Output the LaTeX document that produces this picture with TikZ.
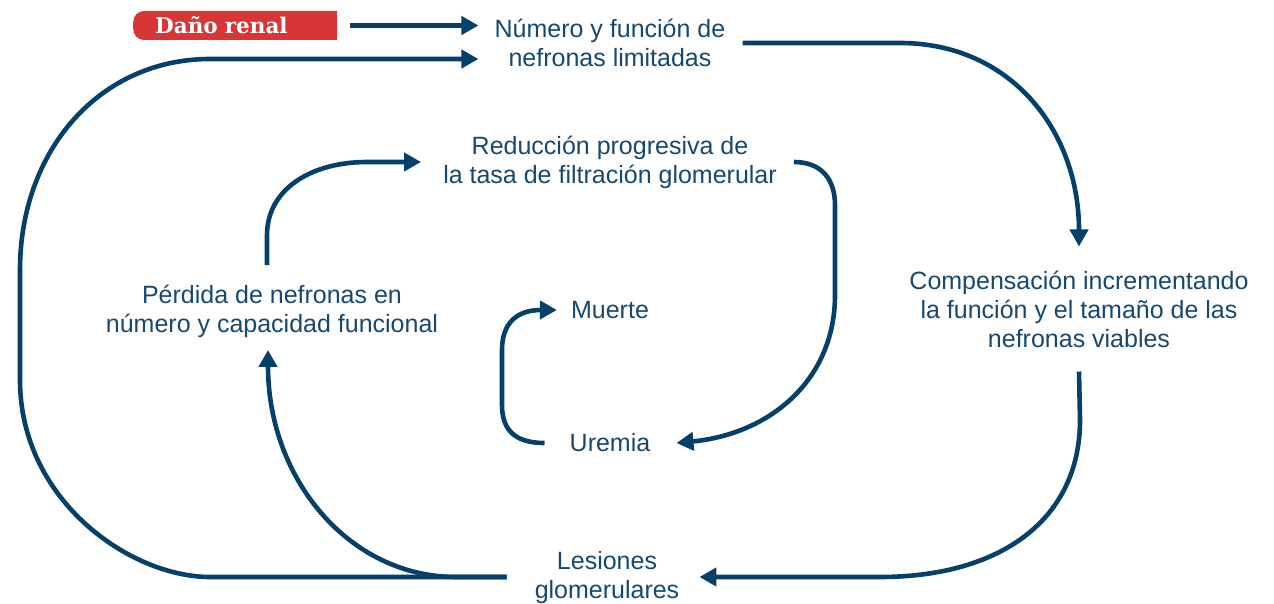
\documentclass[tikz,border=0pt]{standalone}
\usepackage{fontspec}
\setmainfont{Liberation Sans}
\newfontfamily\slabfont{DejaVu Serif}
\usetikzlibrary{arrows.meta}
\definecolor{navy}{RGB}{4,64,105}
\definecolor{txtblue}{RGB}{22,72,112}
\definecolor{dred}{RGB}{216,54,54}
\begin{document}
\begin{tikzpicture}[x=1pt,y=-1pt,
  lbl/.style={font=\fontsize{25}{29}\selectfont, text=txtblue, align=center, inner sep=0pt},
  conn/.style={draw=navy, line width=4.6pt},
  arr/.style={conn, -{Triangle[length=17pt,width=18pt]}},
  redbox/.style={anchor=west, minimum height=29pt, text width=160pt, inner xsep=22pt, inner ysep=0pt,
     align=left, text=white, font=\slabfont\bfseries\fontsize{21.5}{24}\selectfont,
     path picture={\fill[dred, rounded corners=11pt] (path picture bounding box.south west) rectangle ([xshift=20pt]path picture bounding box.north east);}},
]
\useasboundingbox (0,0) rectangle (1274,604);
% nodes
\node[redbox] (dano) at (133,25.5) {Daño renal};
\node[lbl] (num) at (610,43) {Número y función de\\nefronas limitadas};
\node[lbl] (red) at (610,162) {Reducción progresiva de\\la tasa de filtración glomerular};
\node[lbl] (perd) at (272,311) {Pérdida de nefronas en\\número y capacidad funcional};
\node[lbl] (muerte) at (610,310) {Muerte};
\node[lbl] (uremia) at (610,443) {Uremia};
\node[lbl] (comp) at (1079,309) {Compensación incrementando\\la función y el tamaño de las\\nefronas viables};
\node[lbl] (les) at (607,578) {Lesiones\\glomerulares};
% connectors
\draw[arr, shorten <=13pt] (dano.east) -- ([xshift=-16pt]dano.east -| num.west);
\draw[arr] ([xshift=-28pt,yshift=1pt]les.west) -- (210,577) .. controls (130,577) and (20,500) .. (20,380)
   -- (20,270) .. controls (20,150) and (100,59) .. (210,59) -- ([xshift=-16pt,yshift=-16pt]num.west);
\draw[arr] ([xshift=-28pt,yshift=1pt]les.west) -- (456,577) .. controls (350,577) and (268,480) .. ([xshift=-4pt,yshift=-12.5pt]perd.south);
\draw[arr] ([xshift=-5pt,yshift=19.5pt]perd.north) -- (267,235) .. controls (267,190) and (310,162) .. (367,162) -- ([xshift=-22pt]red.west);
\draw[arr] ([xshift=17pt]red.east) .. controls (822,162) and (835,180) .. (835,205) -- (835,295)
   .. controls (835,380) and (770,434) .. ([xshift=26pt]uremia.east);
\draw[arr] ([xshift=-25pt]uremia.west) .. controls (515,443) and (502,430) .. (502,405) -- (502,350)
   .. controls (502,325) and (515,310) .. ([xshift=-14pt]muerte.west);
\draw[arr] ([xshift=17pt]num.east) -- (900,43) .. controls (1010,43) and (1079,130) .. ([yshift=24pt]comp.north);
\draw[arr] ([yshift=-24pt]comp.south) -- (1080,420) .. controls (1080,520) and (1000,577) .. (880,577) -- ([xshift=20pt,yshift=1pt]les.east);
\end{tikzpicture}
\end{document}
